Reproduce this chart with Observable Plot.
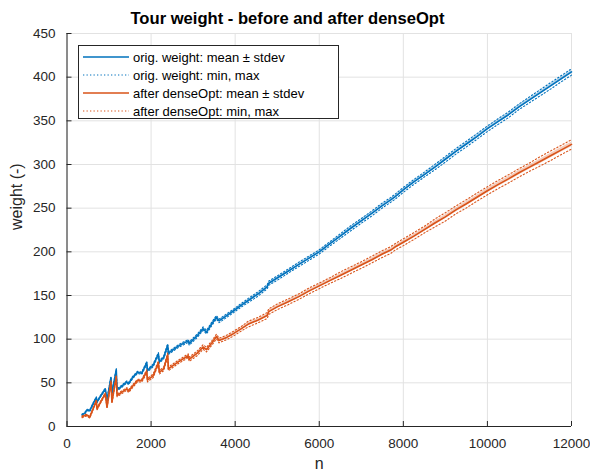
<!DOCTYPE html>
<html>
<head>
<meta charset="utf-8">
<script src="https://cdn.jsdelivr.net/npm/d3@7"></script>
<script src="https://cdn.jsdelivr.net/npm/@observablehq/plot@0.6"></script>
<style>
  body { margin: 0; background: #fff; }
  #wrap { position: relative; width: 590px; height: 471px; font-family: "Liberation Sans", Arial, sans-serif; }
  #chart svg { overflow: visible; }
  #title { position: absolute; left: 0; width: 575px; top: 9px; text-align: center; font-weight: bold; font-size: 16.6px; line-height: 19px; color: #000; }
  #legend { position: absolute; left: 78px; top: 45px; width: 259px; height: 72px; border: 1px solid #262626; background: #fff; font-size: 13px; color: #000; }
  #legend .row { position: absolute; left: 4px; height: 18px; display: flex; align-items: center; }
  #legend svg { margin-right: 4px; }
</style>
</head>
<body>
<div id="wrap">
  <div id="chart"></div>
  <div id="title"></div>
  <div id="legend"></div>
</div>
<script>
// Problem size n (shared by both series)
const n = [360, 420, 478, 540, 620, 698, 714, 800, 911, 951,
  1045, 1069, 1172, 1190, 1300, 1424, 1464, 1560, 1676, 1779,
  1897, 1913, 2050, 2174, 2197, 2300, 2395, 2411, 2650, 2884,
  2908, 3100, 3238, 3318, 3450, 3555, 3617, 3800, 3949, 4150,
  4304, 4550, 4760, 4800, 5000, 5250, 5527, 5750, 6000, 6250,
  6500, 6750, 7000, 7250, 7500, 7700, 7800, 8000, 8250, 8500,
  8750, 9000, 9250, 9500, 9750, 10000, 10250, 10500, 10750, 11000,
  11250, 11500, 11750, 12000];

// Original tour weight
const origMean = [13.5, 15, 19, 18, 26, 33, 28, 35, 43, 30,
  56, 38, 65, 42, 46, 51, 49, 56, 62, 61,
  73, 64, 70, 83, 74, 79, 93, 84, 92, 98,
  95, 104, 112, 108, 118, 125, 121, 127, 132, 139,
  144, 152, 160, 164, 170, 177.5, 186, 192.5, 200, 209,
  218, 227, 235.5, 244, 253, 259.5, 263, 271, 280, 288.5,
  297, 306, 315, 323.5, 332, 341, 349, 357, 366, 374,
  382, 390, 398, 406];
const origSd = [0.4, 0.4, 0.5, 0.5, 0.5, 0.6, 0.5, 0.6, 0.6, 0.5,
  0.6, 0.6, 0.7, 0.6, 0.7, 0.7, 0.7, 0.8, 0.8, 0.8,
  0.8, 0.8, 0.9, 0.9, 0.9, 0.9, 1.0, 1.0, 1.0, 1.0,
  1.0, 1.0, 1.1, 1.1, 1.1, 1.1, 1.1, 1.2, 1.2, 1.2,
  1.2, 1.2, 1.3, 1.3, 1.3, 1.3, 1.4, 1.4, 1.4, 1.4,
  1.4, 1.5, 1.5, 1.5, 1.5, 1.6, 1.5, 1.6, 1.6, 1.6,
  1.6, 1.7, 1.7, 1.7, 1.7, 1.8, 1.8, 1.8, 1.8, 1.9,
  1.9, 1.9, 2.0, 2.0];
const origMin = [12.7, 14.2, 18.1, 17.2, 25.1, 32.0, 27.2, 34.1, 42.0, 29.2,
  54.7, 36.9, 63.8, 40.8, 44.7, 49.8, 47.9, 54.7, 60.8, 59.7,
  71.3, 62.5, 68.4, 81.3, 72.5, 77.4, 91.3, 82.4, 90.5, 96.3,
  93.1, 102.0, 110.1, 106.0, 116.0, 123.1, 118.9, 125.0, 129.9, 137.0,
  141.7, 149.5, 157.6, 161.7, 167.5, 175.2, 183.5, 190.1, 197.5, 206.6,
  215.3, 224.1, 232.8, 241.1, 250.2, 256.8, 260.1, 268.1, 277.2, 285.7,
  293.9, 302.7, 311.9, 320.2, 328.8, 337.8, 345.8, 353.6, 362.9, 370.7,
  378.5, 386.3, 394.5, 402.3];
const origMax = [14.3, 15.9, 19.8, 18.9, 26.8, 33.9, 28.9, 35.8, 43.9, 30.8,
  57.2, 39.2, 66.3, 43.3, 47.2, 52.3, 50.2, 57.3, 63.2, 62.3,
  74.6, 65.5, 71.6, 84.7, 75.6, 80.5, 94.7, 85.5, 93.7, 99.6,
  97.0, 106.0, 114.0, 110.1, 120.0, 127.1, 123.0, 129.1, 134.1, 141.0,
  146.4, 154.5, 162.3, 166.5, 172.4, 180.0, 188.5, 195.0, 202.4, 211.5,
  220.7, 229.9, 238.2, 246.8, 255.9, 262.2, 265.9, 273.8, 282.8, 291.3,
  300.1, 309.2, 318.2, 326.7, 335.3, 344.2, 352.3, 360.2, 369.3, 377.4,
  385.5, 393.6, 401.6, 409.7];

// Tour weight after denseOpt
const optMean = [11, 12.5, 13, 10.5, 20, 29.5, 20, 28, 37.5, 22,
  51, 28, 57, 35.5, 39, 43, 40.5, 46, 52.5, 52.5,
  63, 53, 58, 73, 62, 66, 82, 66, 74, 81,
  77, 84, 91, 88, 96, 103, 98.5, 102, 106, 112,
  117, 122, 127, 131.5, 137, 142.5, 149, 155, 161, 167,
  173, 179, 185, 191, 197.5, 202, 205.5, 211, 218, 225.5,
  233, 240, 248, 255, 262.5, 270, 277, 283.5, 290.5, 297,
  303.5, 310, 316.5, 323];
const optSd = [0.5, 0.5, 0.6, 0.6, 0.6, 0.7, 0.6, 0.7, 0.7, 0.6,
  0.8, 0.7, 0.8, 0.7, 0.8, 0.8, 0.8, 0.9, 0.9, 0.9,
  1.0, 0.9, 1.0, 1.0, 1.0, 1.0, 1.1, 1.1, 1.1, 1.2,
  1.2, 1.2, 1.3, 1.3, 1.3, 1.4, 1.4, 1.4, 1.5, 1.5,
  1.5, 1.6, 1.6, 1.6, 1.7, 1.7, 1.7, 1.8, 1.8, 1.8,
  1.9, 1.9, 1.9, 2.0, 2.0, 2.0, 2.1, 2.1, 2.1, 2.2,
  2.2, 2.2, 2.3, 2.3, 2.3, 2.4, 2.4, 2.4, 2.5, 2.5,
  2.5, 2.6, 2.6, 2.6];
const optMin = [10.0, 11.4, 12.1, 9.4, 19.0, 28.4, 19.1, 27.0, 36.4, 21.0,
  49.4, 26.6, 55.5, 34.0, 37.4, 41.6, 38.9, 44.4, 51.0, 50.9,
  61.1, 51.0, 56.0, 70.9, 60.1, 63.9, 80.0, 63.9, 72.1, 78.8,
  74.5, 81.3, 88.5, 85.3, 93.4, 100.4, 95.8, 99.5, 103.3, 109.5,
  113.8, 118.9, 123.6, 128.4, 133.8, 139.2, 145.9, 151.7, 157.8, 163.8,
  169.2, 175.3, 181.1, 187.3, 193.6, 198.1, 201.8, 207.1, 214.1, 221.6,
  228.5, 235.3, 243.5, 250.3, 258.0, 265.3, 272.3, 278.8, 285.7, 292.2,
  298.2, 304.5, 311.2, 317.6];
const optMax = [12.1, 13.5, 14.0, 11.6, 21.1, 30.6, 21.0, 29.1, 38.6, 23.0,
  52.6, 29.5, 58.4, 37.0, 40.6, 44.5, 42.1, 47.6, 54.0, 54.1,
  65.0, 55.1, 60.1, 75.1, 64.0, 68.1, 84.2, 68.0, 76.0, 83.2,
  79.5, 86.6, 93.7, 90.6, 98.5, 105.7, 101.1, 104.6, 108.8, 114.7,
  120.3, 125.1, 130.4, 134.8, 140.3, 145.8, 152.2, 158.4, 164.3, 170.3,
  176.9, 182.8, 188.7, 194.9, 201.4, 206.0, 209.3, 214.9, 222.0, 229.3,
  237.6, 244.8, 252.5, 259.7, 267.2, 274.6, 281.6, 288.2, 295.2, 301.7,
  308.8, 315.5, 321.8, 328.4];

const xTicks = [0, 2000, 4000, 6000, 8000, 10000, 12000];
const yTicks = [0, 50, 100, 150, 200, 250, 300, 350, 400, 450];

const titleText = "Tour weight - before and after denseOpt";
const xLabel = "n";
const yLabel = "weight (-)";
const legendLabels = [
  "orig. weight: mean \u00b1 stdev",
  "orig. weight: min, max",
  "after denseOpt: mean \u00b1 stdev",
  "after denseOpt: min, max"
];

const blue = "#0072BD";
const orange = "#D95319";
const axisColor = "#262626";
const gridColor = "#e2e2e2";
const dots = "1.3,2.2";

function table(mean, sd, mn, mx) {
  return n.map((v, i) => ({n: v, mean: mean[i], lo: mean[i] - sd[i], hi: mean[i] + sd[i], min: mn[i], max: mx[i]}));
}
const orig = table(origMean, origSd, origMin, origMax);
const opt = table(optMean, optSd, optMin, optMax);

function seriesMarks(data, color) {
  return [
    Plot.areaY(data, {x: "n", y1: "lo", y2: "hi", fill: color, fillOpacity: 0.3}),
    Plot.lineY(data, {x: "n", y: "min", stroke: color, strokeWidth: 1.1, strokeDasharray: dots}),
    Plot.lineY(data, {x: "n", y: "max", stroke: color, strokeWidth: 1.1, strokeDasharray: dots}),
    Plot.lineY(data, {x: "n", y: "mean", stroke: color, strokeWidth: 1.6})
  ];
}

const chart = Plot.plot({
  width: 590,
  height: 471,
  marginTop: 33,
  marginBottom: 45,
  marginLeft: 66.5,
  marginRight: 19,
  style: {fontFamily: "'Liberation Sans', Arial, sans-serif", fontSize: "13.5px", color: axisColor, background: "#fff", overflow: "visible"},
  x: {domain: [0, 12000]},
  y: {domain: [0, 450]},
  marks: [
    Plot.gridX(xTicks, {stroke: gridColor, strokeOpacity: 1}),
    Plot.gridY(yTicks, {stroke: gridColor, strokeOpacity: 1}),
    ...seriesMarks(orig, blue),
    ...seriesMarks(opt, orange),
    Plot.ruleX([0], {stroke: axisColor}),
    Plot.ruleY([0], {stroke: axisColor}),
    Plot.axisX(xTicks, {tickSize: -5, fill: "none", stroke: axisColor, label: null}),
    Plot.axisY(yTicks, {tickSize: -5, fill: "none", stroke: axisColor, label: null}),
    Plot.axisX(xTicks, {tickSize: 0, tickPadding: 11.5, tickFormat: d => String(d), fill: axisColor, label: null, fontSize: 13.5}),
    Plot.axisY(yTicks, {tickSize: 0, tickPadding: 11.5, tickFormat: d => String(d), fill: axisColor, label: null, fontSize: 13.5}),
    // axis titles
    Plot.text([xLabel], {frameAnchor: "bottom", lineAnchor: "bottom", dy: 42, fontSize: 16, fill: axisColor}),
    Plot.text([yLabel], {frameAnchor: "left", lineAnchor: "middle", rotate: -90, dx: -50.5, fontSize: 16, fill: axisColor})
  ]
});
document.getElementById("chart").appendChild(chart);
document.getElementById("title").textContent = titleText;

// Legend
const legendItems = [
  {color: blue, dash: null},
  {color: blue, dash: dots},
  {color: orange, dash: null},
  {color: orange, dash: dots}
];
const legend = document.getElementById("legend");
const rowTops = [2, 20, 38, 56];
legendItems.forEach((item, i) => {
  const row = document.createElement("div");
  row.className = "row";
  row.style.top = rowTops[i] + "px";
  const svg = d3.create("svg").attr("width", 46).attr("height", 18);
  svg.append("line").attr("x1", 0).attr("x2", 46).attr("y1", 9).attr("y2", 9)
    .attr("stroke", item.color).attr("stroke-width", item.dash ? 1.1 : 1.6)
    .attr("stroke-dasharray", item.dash);
  row.appendChild(svg.node());
  const span = document.createElement("span");
  span.textContent = legendLabels[i];
  row.appendChild(span);
  legend.appendChild(row);
});
</script>
</body>
</html>
